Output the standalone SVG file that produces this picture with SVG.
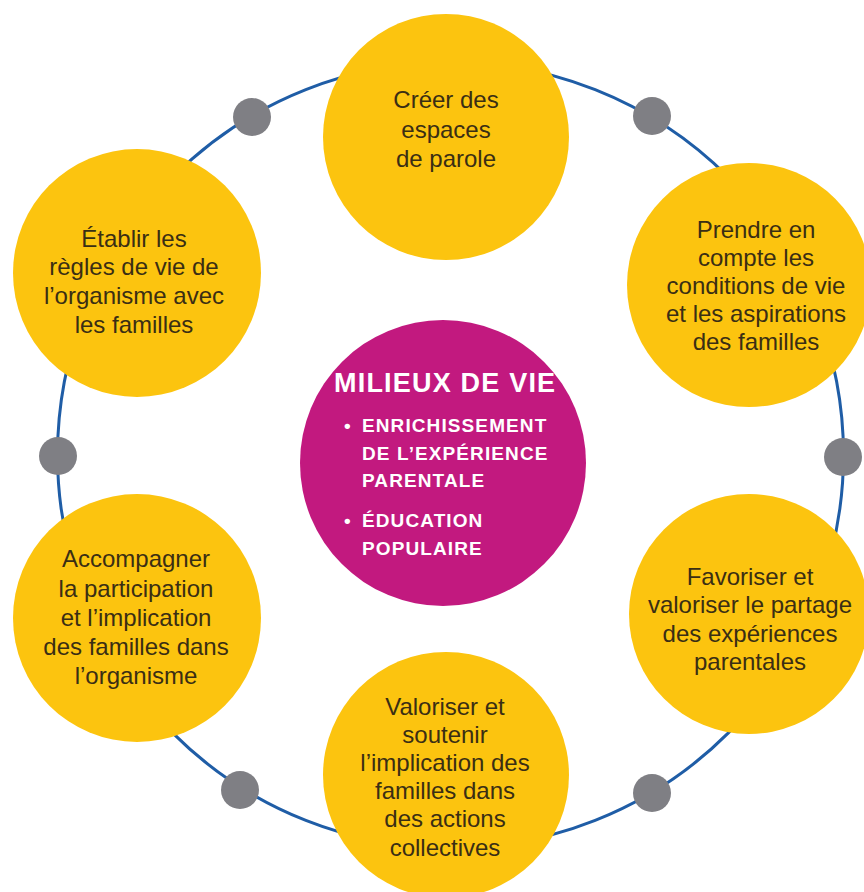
<svg xmlns="http://www.w3.org/2000/svg" width="864" height="892" viewBox="0 0 864 892">
  <style>
    .yellow { fill: #FCC40F; }
    .dot { fill: #7F7F84; }
    .ring { fill: none; stroke: #1F5DA6; stroke-width: 3; }
    .lbl { font-family: "Liberation Sans", Arial, sans-serif; font-size: 24px; fill: #3A2E14; text-anchor: middle; }
    .title { font-family: "Liberation Sans", Arial, sans-serif; font-weight: bold; font-size: 27px; letter-spacing: 1.2px; fill: #FFFFFF; }
    .bul { font-family: "Liberation Sans", Arial, sans-serif; font-weight: bold; font-size: 19px; letter-spacing: 1.1px; fill: #FFFFFF; }
  </style>
  <rect width="864" height="892" fill="#FFFFFF"/>
  <g id="connectors">
    <circle class="ring" cx="450.5" cy="455" r="393"/>
  </g>
  <g id="ring-dots">
    <circle class="dot" cx="252" cy="117" r="19"/>
    <circle class="dot" cx="652" cy="116" r="19"/>
    <circle class="dot" cx="58" cy="456" r="19"/>
    <circle class="dot" cx="843" cy="457" r="19"/>
    <circle class="dot" cx="240" cy="790" r="19"/>
    <circle class="dot" cx="652" cy="793" r="19"/>
  </g>
  <g id="node-top">
    <circle class="yellow" cx="446" cy="137" r="123"/>
    <text class="lbl"><tspan x="446" y="108">Créer des</tspan><tspan x="446" y="138">espaces</tspan><tspan x="446" y="167">de parole</tspan></text>
  </g>
  <g id="node-top-right">
    <circle class="yellow" cx="749" cy="285" r="122"/>
    <text class="lbl"><tspan x="756" y="238">Prendre en</tspan><tspan x="756" y="266">compte les</tspan><tspan x="756" y="294">conditions de vie</tspan><tspan x="756" y="322">et les aspirations</tspan><tspan x="756" y="350">des familles</tspan></text>
  </g>
  <g id="node-bottom-right">
    <circle class="yellow" cx="749" cy="614" r="120"/>
    <text class="lbl"><tspan x="750" y="585">Favoriser et</tspan><tspan x="750" y="613">valoriser le partage</tspan><tspan x="750" y="642">des expériences</tspan><tspan x="750" y="670">parentales</tspan></text>
  </g>
  <g id="node-bottom">
    <circle class="yellow" cx="446" cy="775" r="123"/>
    <text class="lbl"><tspan x="445" y="715">Valoriser et</tspan><tspan x="445" y="743">soutenir</tspan><tspan x="445" y="771">l’implication des</tspan><tspan x="445" y="799">familles dans</tspan><tspan x="445" y="827">des actions</tspan><tspan x="445" y="856">collectives</tspan></text>
  </g>
  <g id="node-bottom-left">
    <circle class="yellow" cx="137" cy="618" r="124"/>
    <text class="lbl"><tspan x="136" y="567">Accompagner</tspan><tspan x="136" y="597">la participation</tspan><tspan x="136" y="626">et l’implication</tspan><tspan x="136" y="655">des familles dans</tspan><tspan x="136" y="684">l’organisme</tspan></text>
  </g>
  <g id="node-top-left">
    <circle class="yellow" cx="137" cy="273" r="124"/>
    <text class="lbl"><tspan x="134" y="247">Établir les</tspan><tspan x="134" y="275">règles de vie de</tspan><tspan x="134" y="304">l’organisme avec</tspan><tspan x="134" y="333">les familles</tspan></text>
  </g>
  <g id="node-center">
    <circle cx="443" cy="463" r="143" fill="#C2197F"/>
    <text class="title" x="334" y="392">MILIEUX DE VIE</text>
    <text class="bul"><tspan x="344" y="432">•</tspan><tspan x="362" y="432">ENRICHISSEMENT</tspan><tspan x="362" y="460">DE L’EXPÉRIENCE</tspan><tspan x="362" y="487">PARENTALE</tspan><tspan x="344" y="527">•</tspan><tspan x="362" y="527">ÉDUCATION</tspan><tspan x="362" y="555">POPULAIRE</tspan></text>
  </g>
</svg>
